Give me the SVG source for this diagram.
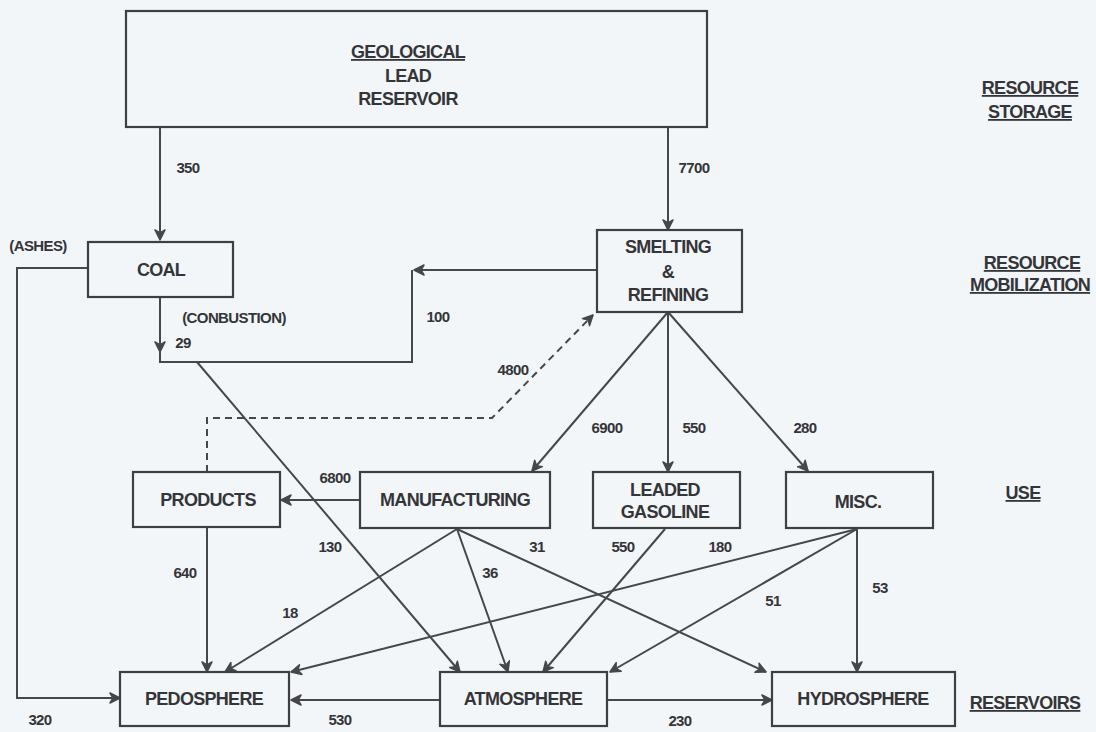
<svg xmlns="http://www.w3.org/2000/svg" width="1096" height="732" viewBox="0 0 1096 732">
<defs>
<style>
.bg{fill:#f3f6f8}
.box{fill:none;stroke:#3d3f42;stroke-width:2.2}
.t{font-family:"Liberation Sans",Arial,sans-serif;font-weight:bold;font-size:18px;fill:#333538;text-anchor:middle;letter-spacing:-0.7px}
.n{font-family:"Liberation Sans",Arial,sans-serif;font-weight:bold;font-size:15px;fill:#333538;text-anchor:middle;letter-spacing:-0.6px}
.u{text-decoration:underline}
.c{fill:none;stroke:#45474a;stroke-width:2}
.d{stroke-dasharray:7 5}
</style>
<marker id="ah" viewBox="0 0 12 12" refX="11" refY="6" markerWidth="12" markerHeight="12" markerUnits="userSpaceOnUse" orient="auto">
<path d="M1,1 L11,6 L1,11 L4,6 Z" fill="#45474a" stroke="#45474a" stroke-width="1.5" stroke-linejoin="round"/>
</marker>
</defs>
<rect class="bg" x="0" y="0" width="1096" height="732"/>

<g id="connectors">
<path class="c" d="M160,127 V240" marker-end="url(#ah)"/>
<path class="c" d="M668,127 V230" marker-end="url(#ah)"/>
<path class="c" d="M88,268 H17 V698 H120" marker-end="url(#ah)"/>
<path class="c" d="M160,297 V352" marker-end="url(#ah)"/>
<path class="c" d="M597,270 H414" marker-end="url(#ah)"/>
<path class="c" d="M412,270 V362 H160 V350"/>
<path class="c" d="M197,362 L460,672" marker-end="url(#ah)"/>
<path class="c d" d="M207,472 V418 H492 L593,315" marker-end="url(#ah)"/>
<path class="c" d="M360,500 H281" marker-end="url(#ah)"/>
<path class="c" d="M207,527 V672" marker-end="url(#ah)"/>
<path class="c" d="M668,312 L532,471" marker-end="url(#ah)"/>
<path class="c" d="M668,312 V472" marker-end="url(#ah)"/>
<path class="c" d="M668,312 L808,471" marker-end="url(#ah)"/>
<path class="c" d="M457,529 L225,672" marker-end="url(#ah)"/>
<path class="c" d="M457,529 L508,672" marker-end="url(#ah)"/>
<path class="c" d="M457,529 L766,672" marker-end="url(#ah)"/>
<path class="c" d="M665,529 L543,672" marker-end="url(#ah)"/>
<path class="c" d="M857,529 L291,672" marker-end="url(#ah)"/>
<path class="c" d="M857,529 L610,672" marker-end="url(#ah)"/>
<path class="c" d="M857,529 V672" marker-end="url(#ah)"/>
<path class="c" d="M440,700 H291" marker-end="url(#ah)"/>
<path class="c" d="M607,700 H772" marker-end="url(#ah)"/>
<text class="n" x="188" y="173">350</text>
<text class="n" x="694" y="173">7700</text>
<text class="n" x="38" y="251">(ASHES)</text>
<text class="n" x="40" y="725">320</text>
<text class="n" x="234" y="323">(CONBUSTION)</text>
<text class="n" x="183" y="348">29</text>
<text class="n" x="438" y="322">100</text>
<text class="n" x="513" y="375">4800</text>
<text class="n" x="607" y="433">6900</text>
<text class="n" x="694" y="433">550</text>
<text class="n" x="805" y="433">280</text>
<text class="n" x="335" y="483">6800</text>
<text class="n" x="330" y="552">130</text>
<text class="n" x="185" y="578">640</text>
<text class="n" x="290" y="618">18</text>
<text class="n" x="490" y="578">36</text>
<text class="n" x="537" y="552">31</text>
<text class="n" x="623" y="552">550</text>
<text class="n" x="720" y="552">180</text>
<text class="n" x="773" y="606">51</text>
<text class="n" x="880" y="593">53</text>
<text class="n" x="340" y="725">530</text>
<text class="n" x="680" y="726">230</text>
</g>

<g id="geological">
<rect class="box" x="126" y="11" width="581" height="116"/>
<text class="t" x="408" y="58"><tspan class="u">GEOLOGICAL</tspan></text>
<text class="t" x="408" y="82">LEAD</text>
<text class="t" x="408" y="105">RESERVOIR</text>
</g>
<g id="coal">
<rect class="box" x="88" y="242" width="145" height="55"/>
<text class="t" x="161" y="276">COAL</text>
</g>
<g id="smelting">
<rect class="box" x="597" y="230" width="145" height="82"/>
<text class="t" x="668" y="253">SMELTING</text>
<text class="t" x="668" y="278">&amp;</text>
<text class="t" x="668" y="301">REFINING</text>
</g>
<g id="products">
<rect class="box" x="133" y="472" width="147" height="55"/>
<text class="t" x="208" y="506">PRODUCTS</text>
</g>
<g id="manufacturing">
<rect class="box" x="360" y="472" width="190" height="56"/>
<text class="t" x="455" y="506">MANUFACTURING</text>
</g>
<g id="leaded-gasoline">
<rect class="box" x="593" y="472" width="147" height="56"/>
<text class="t" x="665" y="496">LEADED</text>
<text class="t" x="665" y="518">GASOLINE</text>
</g>
<g id="misc">
<rect class="box" x="786" y="472" width="147" height="56"/>
<text class="t" x="858" y="508">MISC.</text>
</g>
<g id="pedosphere">
<rect class="box" x="120" y="672" width="169" height="54"/>
<text class="t" x="204" y="705">PEDOSPHERE</text>
</g>
<g id="atmosphere">
<rect class="box" x="440" y="672" width="167" height="54"/>
<text class="t" x="523" y="705">ATMOSPHERE</text>
</g>
<g id="hydrosphere">
<rect class="box" x="772" y="672" width="183" height="54"/>
<text class="t" x="863" y="705">HYDROSPHERE</text>
</g>
<g id="level-labels">
<text class="t u" x="1030" y="94">RESOURCE</text>
<text class="t u" x="1030" y="118">STORAGE</text>
<text class="t u" x="1032" y="269">RESOURCE</text>
<text class="t u" x="1030" y="291">MOBILIZATION</text>
<text class="t u" x="1023" y="499">USE</text>
<text class="t u" x="1025" y="709">RESERVOIRS</text>
</g>
</svg>
